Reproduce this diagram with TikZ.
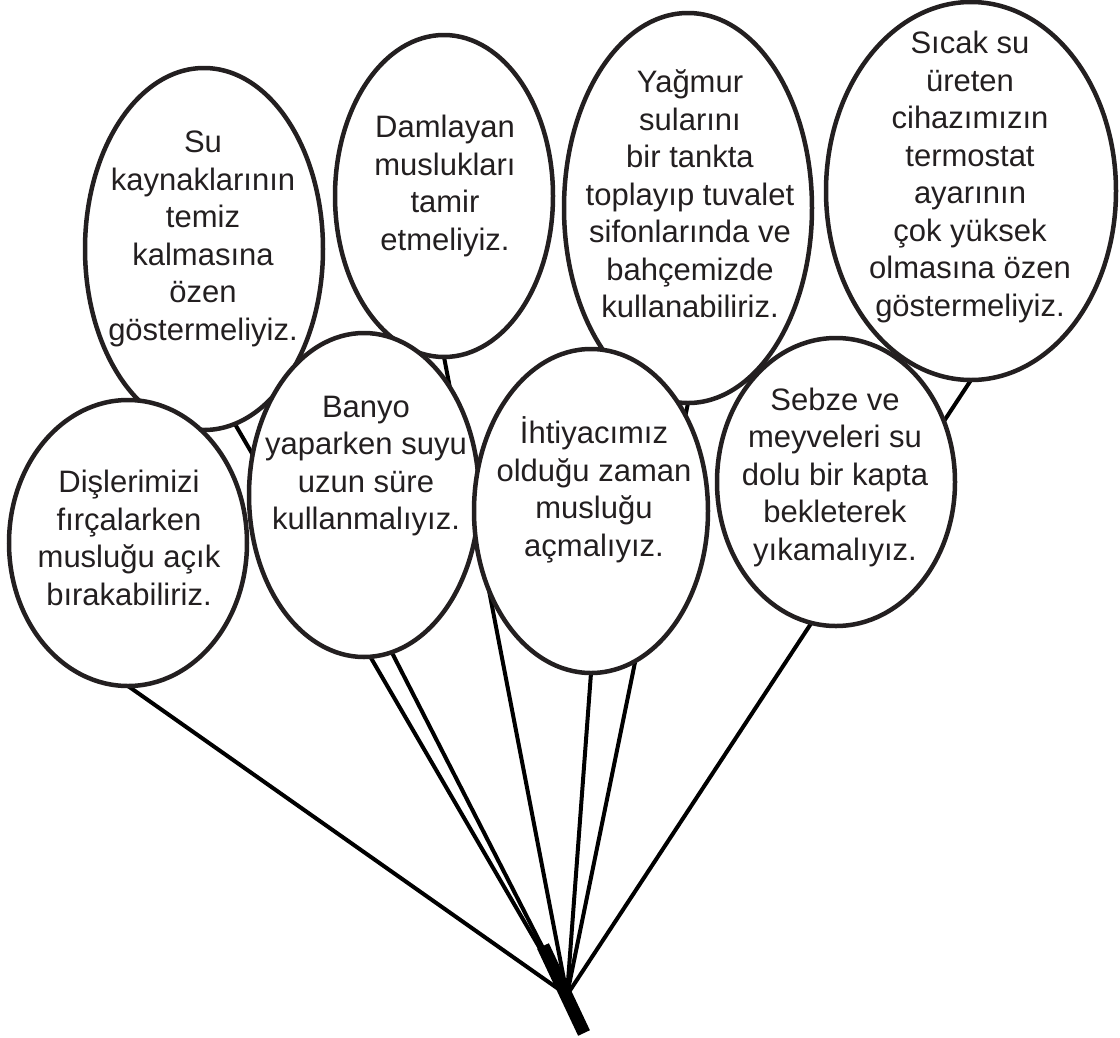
\documentclass[tikz,border=0pt]{standalone}
\usepackage{fontspec}
\setmainfont{Liberation Sans}
\usetikzlibrary{shapes.geometric,backgrounds}
\definecolor{ink}{RGB}{35,31,32}

\begin{document}
\begin{tikzpicture}[x=1pt, y=-1pt,
  balloon/.style  = {ellipse, draw=ink, line width=4.5pt, fill=white,
                     inner sep=0pt, outer sep=0pt},
  msg/.style      = {align=center, text=ink, inner sep=0pt,
                     font=\fontsize{31}{37.5}\selectfont},
  cord/.style     = {line width=4pt, black},
  knotline/.style = {line width=13pt, black},
]
\useasboundingbox (0,0) rectangle (1120,1037);

% back row
\node[balloon, minimum width=238pt, minimum height=362pt] (su)     at (204,249) {};
\node[balloon, minimum width=218pt, minimum height=322pt] (damla)  at (444,196) {};
\node[balloon, minimum width=248pt, minimum height=390pt] (yagmur) at (688,208) {};
\node[balloon, minimum width=290pt, minimum height=378pt] (sicak)  at (971,191) {};

% front row
\node[balloon, minimum width=238pt, minimum height=286pt] (dis)     at (128,543) {};
\node[balloon, minimum width=230pt, minimum height=324pt] (banyo)   at (364,495) {};
\node[balloon, minimum width=234pt, minimum height=324pt] (ihtiyac) at (591,511) {};
\node[balloon, minimum width=238pt, minimum height=288pt] (sebze)   at (836,482) {};

\node[msg] (sutext)     at (203,239)
  {Su\\kaynaklarının\\temiz\\kalmasına\\özen\\göstermeliyiz.};
\node[msg] (damlatext)  at (445,186)
  {Damlayan\\muslukları\\tamir\\etmeliyiz.};
\node[msg] (yagmurtext) at (690,194)
  {Yağmur\\sularını\\bir tankta\\toplayıp tuvalet\\sifonlarında ve\\bahçemizde\\kullanabiliriz.};
\node[msg] (sicaktext)  at (970,177)
  {Sıcak su\\üreten\\cihazımızın\\termostat\\ayarının\\çok yüksek\\olmasına özen\\göstermeliyiz.};
\node[msg] (distext)    at (129,538)
  {Dişlerimizi\\fırçalarken\\musluğu açık\\bırakabiliriz.};
\node[msg] (banyotext)  at (366,466)
  {Banyo\\yaparken suyu\\uzun süre\\kullanmalıyız.};
\node[msg] (ihtiyactext) at (594,490)
  {İhtiyacımız\\olduğu zaman\\musluğu\\açmalıyız.};
\node[msg] (sebzetext)  at (835,477)
  {Sebze ve\\meyveleri su\\dolu bir kapta\\bekleterek\\yıkamalıyız.};

% strings, all tied together at the knot
\coordinate (knot)    at (567,995);
\coordinate (tailtop) at (543,946);
\coordinate (tailend) at (584,1033);
\begin{scope}[on background layer]
  \draw[cord] (dis.south)     -- (knot);
  \draw[cord] (su.-80)        -- (knot);
  \draw[cord] (banyo.-80)     -- (knot);
  \draw[cord] (damla.south)   -- (knot);
  \draw[cord] (ihtiyac.south) -- (knot);
  \draw[cord] (yagmur.south)  -- (knot);
  \draw[cord] (sicak.south)   -- (knot);
\end{scope}
\draw[knotline] (tailtop) -- (tailend);

\end{tikzpicture}
\end{document}
